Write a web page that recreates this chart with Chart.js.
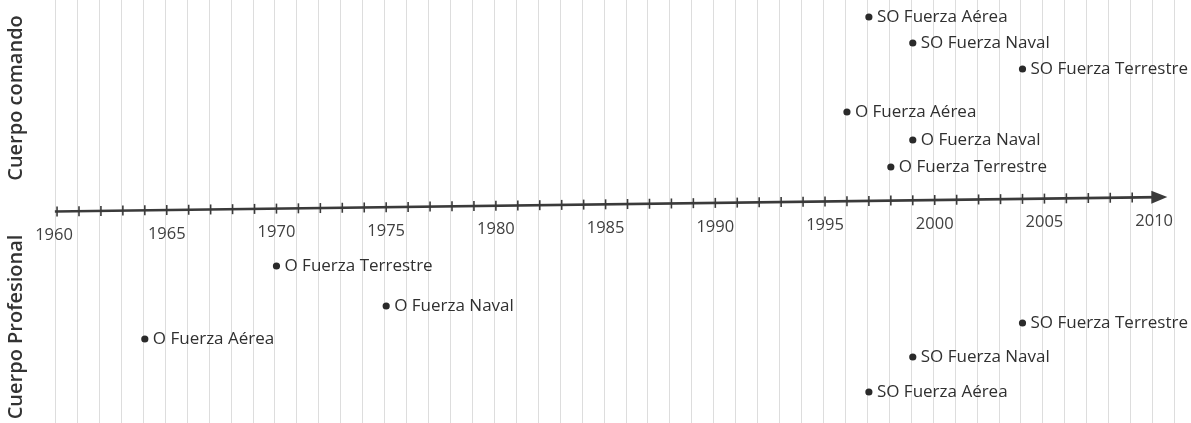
<!DOCTYPE html>
<html>
<head>
<meta charset="utf-8">
<script src="https://cdn.jsdelivr.net/npm/chart.js@4"></script>
<style>
  html, body { margin: 0; padding: 0; background: #ffffff; }
  #wrap { width: 1191px; height: 423px; position: relative; }
</style>
</head>
<body>
<div id="wrap"><canvas id="c" width="1191" height="423"></canvas></div>
<script>
// ---- Data ----
const eventLabels = [
  'SO Fuerza Aérea', 'SO Fuerza Naval', 'SO Fuerza Terrestre',
  'O Fuerza Aérea', 'O Fuerza Naval', 'O Fuerza Terrestre',
  'O Fuerza Terrestre', 'O Fuerza Naval', 'O Fuerza Aérea',
  'SO Fuerza Terrestre', 'SO Fuerza Naval', 'SO Fuerza Aérea'
];
const eventYears = [1997, 1999, 2004, 1996, 1999, 1998, 1970, 1975, 1964, 2004, 1999, 1997];
// vertical offset from the time line (positive = Cuerpo comando, negative = Cuerpo Profesional)
const eventLevels = [188, 162, 136, 93, 65, 38, -61, -101, -134, -118, -152, -187];
const tickYears = [1960, 1965, 1970, 1975, 1980, 1985, 1990, 1995, 2000, 2005, 2010];
const groupTitles = ['Cuerpo comando', 'Cuerpo Profesional'];
const groupCenters = [107, -122];
const axisStart = { x: 1959.9, y: -6.5 };
const axisEnd = { x: 2010.6, y: 8 };

const points = eventYears.map((yr, i) => ({ x: yr, y: eventLevels[i], label: eventLabels[i] }));

const FONT = '"Open Sans", "Noto Sans", sans-serif';

const timelinePlugin = {
  id: 'timeline',
  beforeDatasetsDraw(chart) {
    const { ctx, scales: { x, y } } = chart;
    ctx.save();
    // faint vertical year lines
    ctx.strokeStyle = 'rgba(170,170,170,0.4)';
    ctx.lineWidth = 1;
    for (let yr = 1960; yr <= 2011; yr++) {
      const px = Math.round(x.getPixelForValue(yr)) - 1.5;
      ctx.beginPath();
      ctx.moveTo(px, 0);
      ctx.lineTo(px, chart.height);
      ctx.stroke();
    }
    // time axis (slightly tilted as in the scan)
    const x0 = x.getPixelForValue(axisStart.x), y0 = y.getPixelForValue(axisStart.y);
    const x1 = x.getPixelForValue(axisEnd.x), y1 = y.getPixelForValue(axisEnd.y);
    const yAt = (px) => y0 + (y1 - y0) * (px - x0) / (x1 - x0);
    ctx.strokeStyle = '#3a3a3a';
    ctx.lineWidth = 2.6;
    ctx.beginPath();
    ctx.moveTo(x0, y0);
    ctx.lineTo(x1 - 8, yAt(x1 - 8));
    ctx.stroke();
    // arrow head
    ctx.fillStyle = '#3a3a3a';
    ctx.beginPath();
    ctx.moveTo(x1, y1);
    ctx.lineTo(x1 - 16, yAt(x1 - 16) - 6.5);
    ctx.lineTo(x1 - 16, yAt(x1 - 16) + 6.5);
    ctx.closePath();
    ctx.fill();
    // year tick marks
    ctx.lineWidth = 1.6;
    for (let yr = 1960; yr <= 2009; yr++) {
      const px = x.getPixelForValue(yr);
      const py = yAt(px);
      ctx.beginPath();
      ctx.moveTo(px, py - 5);
      ctx.lineTo(px, py + 5);
      ctx.stroke();
    }
    // tick labels
    ctx.fillStyle = '#404040';
    ctx.font = '16.5px ' + FONT;
    ctx.textAlign = 'center';
    ctx.textBaseline = 'middle';
    tickYears.forEach(yr => {
      const px = x.getPixelForValue(yr);
      let lx = px;
      if (yr === 1960) lx = px - 3;
      ctx.fillText(String(yr), lx, yAt(px) + 24);
    });
    // group titles
    ctx.fillStyle = '#333';
    ctx.font = '600 20px ' + FONT;
    groupTitles.forEach((t, i) => {
      ctx.save();
      ctx.translate(16, y.getPixelForValue(groupCenters[i]));
      ctx.rotate(-Math.PI / 2);
      ctx.textAlign = 'center';
      ctx.textBaseline = 'middle';
      ctx.fillText(t, 0, 0);
      ctx.restore();
    });
    ctx.restore();
  },
  afterDatasetsDraw(chart) {
    const { ctx } = chart;
    const meta = chart.getDatasetMeta(0);
    ctx.save();
    ctx.fillStyle = '#303030';
    ctx.font = '17px ' + FONT;
    ctx.textAlign = 'left';
    ctx.textBaseline = 'middle';
    meta.data.forEach((el, i) => {
      ctx.fillText(chart.data.datasets[0].data[i].label, el.x + 8, el.y);
    });
    ctx.restore();
  }
};

new Chart(document.getElementById('c'), {
  type: 'scatter',
  data: {
    datasets: [{
      data: points,
      pointRadius: 3.6,
      pointBackgroundColor: '#2a2a2a',
      pointBorderColor: '#2a2a2a',
      pointBorderWidth: 0
    }]
  },
  options: {
    responsive: false,
    animation: false,
    layout: { padding: 0, autoPadding: false },
    plugins: { legend: { display: false }, tooltip: { enabled: false } },
    scales: {
      x: { type: 'linear', min: 1957.40, max: 2011.68, display: false },
      y: { type: 'linear', min: -218, max: 205, display: false }
    }
  },
  plugins: [timelinePlugin]
});
</script>
</body>
</html>
